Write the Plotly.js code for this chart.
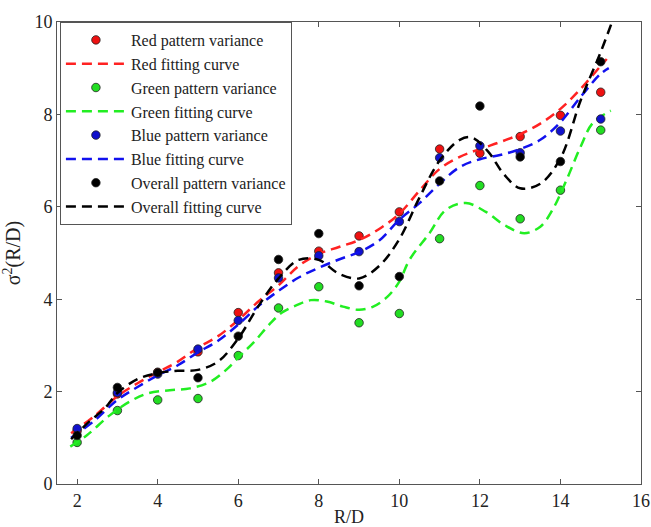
<!DOCTYPE html>
<html>
<head>
<meta charset="utf-8">
<script src="https://cdn.plot.ly/plotly-3.0.1.min.js"></script>
<style>html,body{margin:0;padding:0;background:#fff;}#chart{width:651px;height:527px;}</style>
</head>
<body>
<div id="chart"></div>
<script>
// Measured points
const rd = [2,3,4,5,6,7,8,9,10,11,12,13,14,15];
const redVar   = [1.15,1.95,2.42,2.86,3.71,4.57,5.04,5.37,5.89,7.25,7.16,7.52,7.98,8.48];
const greenVar = [0.90,1.59,1.82,1.85,2.78,3.81,4.27,3.49,3.69,5.31,6.46,5.74,6.36,7.66];
const blueVar  = [1.20,1.98,2.38,2.92,3.54,4.46,4.94,5.03,5.68,7.06,7.32,7.17,7.64,7.90];
const allVar   = [1.05,2.09,2.41,2.30,3.20,4.86,5.42,4.29,4.49,6.56,8.18,7.08,6.98,9.14];

// Fitting curves
const redFitX = [1.85,2.4,3,3.5,4,4.5,5,5.5,6,6.5,7,7.5,8,8.5,9,9.5,10,10.5,11,11.5,12,12.5,13,13.5,14,14.5,15,15.15];
const redFitY = [1.10,1.45,1.90,2.18,2.42,2.65,2.95,3.20,3.55,3.95,4.30,4.72,4.98,5.13,5.28,5.52,5.85,6.35,6.82,7.08,7.25,7.40,7.57,7.80,8.12,8.55,9.05,9.20];
const blueFitX = [1.85,2.4,3,3.5,4,4.5,5,5.5,6,6.5,7,7.5,8,8.5,9,9.5,10,10.5,11,11.5,12,12.5,13,13.5,14,14.5,15,15.2];
const blueFitY = [1.00,1.35,1.82,2.10,2.35,2.57,2.85,3.10,3.45,3.85,4.18,4.47,4.68,4.86,5.02,5.27,5.72,6.08,6.50,6.86,7.03,7.12,7.25,7.45,7.83,8.38,8.88,9.00];
const greenFitX = [1.83,2.25,2.8,3.3,3.75,4.3,4.8,5.3,5.7,6.05,6.4,6.8,7.1,7.45,7.8,8.2,8.6,9.0,9.35,9.7,10.0,10.25,10.75,11.15,11.65,12.15,12.6,13.1,13.5,13.8,14.15,14.5,14.8,15.25];
const greenFitY = [0.81,1.06,1.48,1.78,1.96,2.03,2.07,2.21,2.47,2.78,3.08,3.48,3.72,3.87,3.98,3.95,3.84,3.77,3.84,4.05,4.38,4.85,5.43,5.93,6.08,5.89,5.61,5.43,5.57,5.93,6.58,7.30,7.81,8.08];
const allFitX = [1.85,2.3,2.7,3,3.5,4,4.5,5,5.5,6,6.5,7,7.5,8,8.5,9,9.5,10,10.5,11,11.5,11.8,12.2,12.6,13,13.5,14,14.5,15,15.3];
const allFitY = [0.97,1.35,1.65,1.97,2.27,2.40,2.45,2.47,2.65,3.15,3.85,4.45,4.85,4.85,4.55,4.45,4.72,5.30,6.20,7.00,7.45,7.50,7.20,6.70,6.40,6.50,7.05,8.30,9.35,10.05];

const xTicks = [0,2,4,6,8,10,12,14,16];
const yTicks = [0,2,4,6,8,10];

const serif = 'Liberation Serif, Times New Roman, serif';
const dashStyle = '10px,6px';

function pts(name, y, color) {
  return {x: rd, y: y, name: name, type: 'scatter', mode: 'markers',
    marker: {color: color, size: 8.5, line: {color: '#222', width: 0.8}}};
}
function fit(name, x, y, color) {
  return {x: x, y: y, name: name, type: 'scatter', mode: 'lines',
    line: {color: color, width: 2.5, dash: dashStyle, shape: 'spline', smoothing: 1}};
}

const data = [
  pts('Red pattern variance', redVar, '#ee1111'),
  fit('Red fitting curve', redFitX, redFitY, '#ff2222'),
  pts('Green pattern variance', greenVar, '#22dd22'),
  fit('Green fitting curve', greenFitX, greenFitY, '#22ee22'),
  pts('Blue pattern variance', blueVar, '#1111cc'),
  fit('Blue fitting curve', blueFitX, blueFitY, '#1111ee'),
  pts('Overall pattern variance', allVar, '#000000'),
  fit('Overall fitting curve', allFitX, allFitY, '#000000')
];

const axisCommon = {
  showgrid: false, zeroline: false, showline: true, linecolor: '#555', linewidth: 1,
  mirror: 'ticks', ticks: 'inside', ticklen: 5, tickcolor: '#555',
  tickfont: {family: serif, size: 18, color: '#222'}
};

const layout = {
  width: 651, height: 527,
  margin: {l: 57, r: 10, t: 22, b: 43},
  paper_bgcolor: '#fff', plot_bgcolor: '#fff',
  showlegend: true,
  legend: {x: 0.005, y: 1, xanchor: 'left', yanchor: 'top',
    bgcolor: '#fff', bordercolor: '#555', borderwidth: 1, itemwidth: 60,
    font: {family: serif, size: 16, color: '#222'}, tracegroupgap: 0},
  xaxis: Object.assign({}, axisCommon, {range: [1.5, 16], tickvals: xTicks,
    title: {text: 'R/D', font: {family: serif, size: 18, color: '#222'}, standoff: 2}}),
  yaxis: Object.assign({}, axisCommon, {range: [0, 10], tickvals: yTicks,
    title: {text: 'σ<sup>2</sup>(R/D)', font: {family: serif, size: 20, color: '#222'}, standoff: 8}})
};

Plotly.newPlot('chart', data, layout, {displayModeBar: false, staticPlot: true});
</script>
</body>
</html>
